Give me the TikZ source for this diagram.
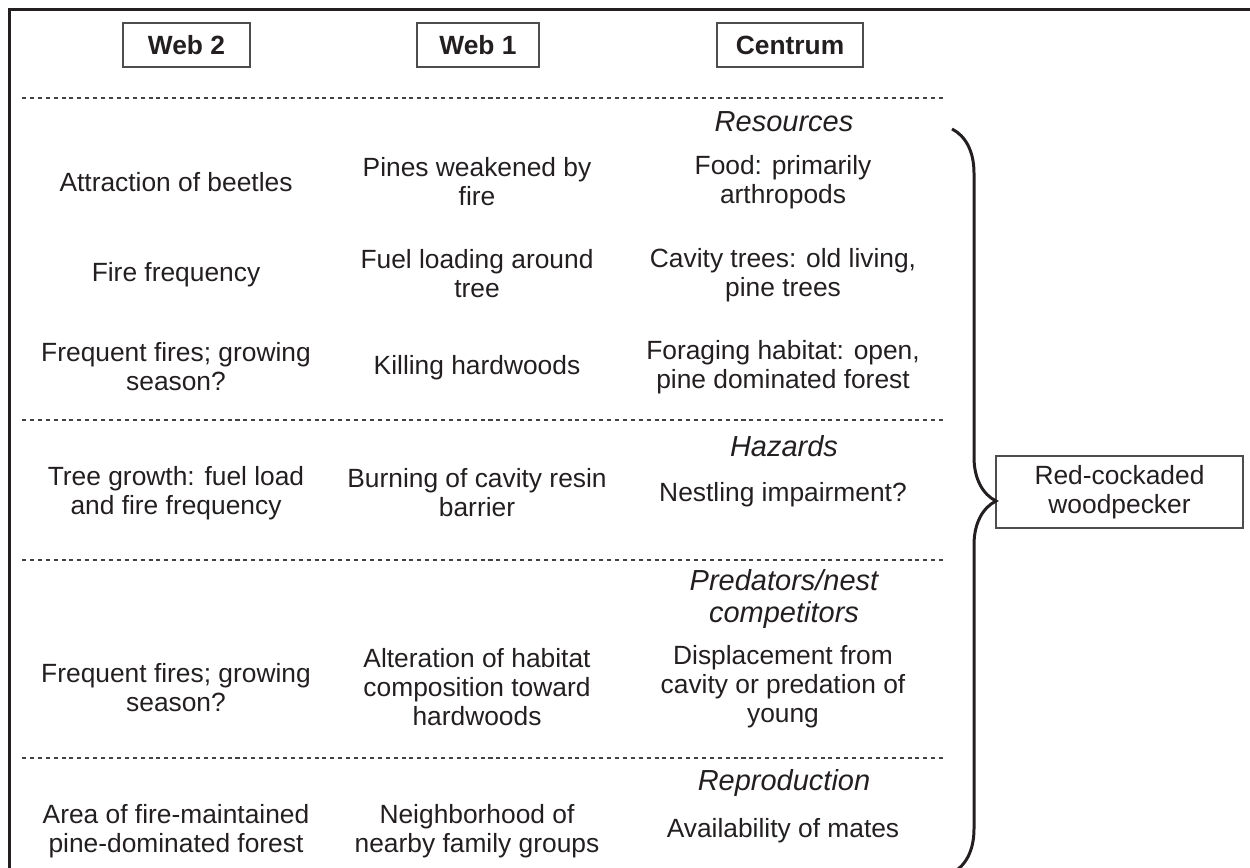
\documentclass[tikz,border=0pt]{standalone}
\usepackage{fontspec}
\setmainfont{Liberation Sans}
\usepackage{tikz}
\usetikzlibrary{decorations.pathreplacing,positioning}
\definecolor{ink}{HTML}{231F20}
\tikzstyle{head} = [draw=ink!80, line width=0.7pt, text=ink, inner sep=0pt, minimum height=0.88cm, font=\fontsize{15}{16.5}\selectfont\bfseries]
\tikzstyle{cell} = [align=center, text=ink, inner sep=0pt, font=\fontsize{15}{16.5}\selectfont]
\tikzstyle{cat} = [align=center, text=ink, inner sep=0pt, font=\fontsize{16.5}{18}\selectfont\itshape]
\tikzstyle{sep} = [draw=ink!85, line width=0.6pt, dash pattern=on 2.3pt off 2.2pt]
\tikzstyle{frame} = [draw=ink, line width=1.8pt]

\begin{document}
\begin{tikzpicture}[x=0.02cm, y=-0.02cm]
		\useasboundingbox (0,0) rectangle (1250,868);
		\draw[frame] (1250,9.5) -- (9.5,9.5) -- (9.5,868);
		% column heads
		\node[head, minimum width=2.54cm] (web2) at (186.5,45) {Web 2};
		\node[head, minimum width=2.44cm] (web1) at (478,45) {Web 1};
		\node[head, minimum width=2.92cm] (centrum) at (790,45) {Centrum};
		\foreach \y in {98,420,560,758}
			\draw[sep] (22,\y) -- (945,\y);
		% resources
		\node[cat] (resources) at (784,122) {Resources};
		\node[cell] (beetles) at (176,182) {Attraction of beetles};
		\node[cell] (pines) at (477,182) {Pines weakened by\\fire};
		\node[cell] (food) at (783,182) {Food: primarily\\arthropods};
		\node[cell] (firefreq) at (176,275) {Fire frequency};
		\node[cell] (fuel) at (477,274) {Fuel loading around\\tree};
		\node[cell] (cavity) at (783,275) {Cavity trees: old living,\\pine trees};
		\node[cell] (frequent) at (176,367) {Frequent fires; growing\\season?};
		\node[cell] (killing) at (477,368) {Killing hardwoods};
		\node[cell] (foraging) at (783,367) {Foraging habitat: open,\\pine dominated forest};
		% hazards
		\node[cat] (hazards) at (784,446) {Hazards};
		\node[cell] (growth) at (176,493) {Tree growth: fuel load\\and fire frequency};
		\node[cell] (burning) at (477,493) {Burning of cavity resin\\barrier};
		\node[cell] (nestling) at (783,495) {Nestling impairment?};
		% predators
		\node[cat] (predators) at (784,599) {Predators/nest\\competitors};
		\node[cell] (frequenttwo) at (176,688) {Frequent fires; growing\\season?};
		\node[cell] (alteration) at (477,687) {Alteration of habitat\\composition toward\\hardwoods};
		\node[cell] (displace) at (783,687) {Displacement from\\cavity or predation of\\young};
		% reproduction
		\node[cat] (repro) at (784,783) {Reproduction};
		\node[cell] (area) at (176,831) {Area of fire-maintained\\pine-dominated forest};
		\node[cell] (neighbor) at (477,831) {Neighborhood of\\nearby family groups};
		\node[cell] (mates) at (783,831) {Availability of mates};
		% species
		\node[cell, draw=ink!80, line width=0.7pt, minimum width=4.94cm, minimum height=1.44cm] (rcw) at (1119.5,492) {Red-cockaded\\woodpecker};
		\coordinate (bracetop) at (952,129);
		\coordinate (bracebot) at (952,873);
		\draw[draw=ink, line width=1.7pt, decorate, decoration={brace, amplitude=0.88cm}] (bracetop) -- (bracebot);
	\end{tikzpicture}
\end{document}
